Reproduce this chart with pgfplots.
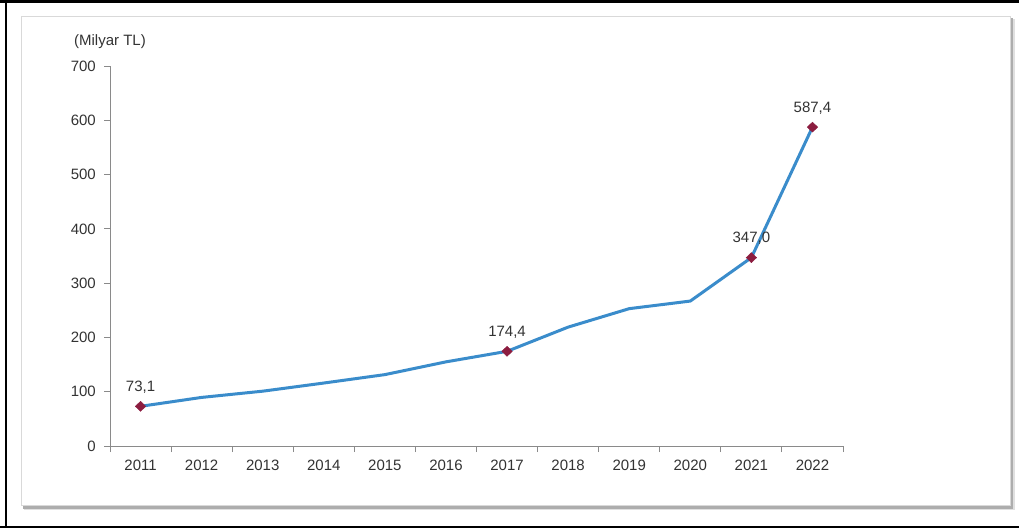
\documentclass[border=0pt]{standalone}
\usepackage{pgfplots}
\pgfplotsset{compat=1.18}
\usepackage{fontspec}
\setmainfont{Liberation Sans}
\definecolor{txt}{HTML}{333333}
\definecolor{ln}{HTML}{3A8CCB}
\definecolor{mk}{HTML}{8C1D40}
\definecolor{axc}{HTML}{8A8A8A}
\pgfplotstableread{
x y
0 73.1
1 89.5
2 101.0
3 116.0
4 131.5
5 155.0
6 174.4
7 219.0
8 253.0
9 267.0
10 347.0
11 587.4
}\datatab
\pgfplotstableread{
x y lab
0 73.1 73,1
6 174.4 174,4
10 347.0 347,0
11 587.4 587,4
}\marktab
\begin{document}
\fontsize{15pt}{18pt}\selectfont
\begin{tikzpicture}
\path[use as bounding box] (0pt,0pt) rectangle (1019pt,528pt);
% outer frame
\fill[black] (0pt,525.3pt) rectangle (1019pt,528pt);
\fill[black] (4.5pt,0pt) rectangle (7.3pt,528pt);
\fill[black] (0pt,0pt) rectangle (1019pt,2.5pt);
% panel shadow
\fill[black!12] (24pt,18pt) rectangle (1015pt,509pt);
\fill[black!32] (23pt,19.5pt) rectangle (1013pt,510pt);
\fill[white,draw=black!15,line width=0.8pt] (21pt,23pt) rectangle (1010pt,512pt);
\node[txt,font=\fontsize{15pt}{18pt}\selectfont] at (110pt,486pt) {(Milyar TL)};
\begin{axis}[
  at={(110pt,82pt)}, anchor=south west,
  scale only axis, width=733pt, height=380pt,
  xmin=-0.5, xmax=11.5, ymin=0, ymax=700,
  axis x line=bottom, axis y line=left,
  axis line style={-, axc, line width=1pt},
  xtick={0,...,11},
  xticklabels={2011,2012,2013,2014,2015,2016,2017,2018,2019,2020,2021,2022},
  major x tick style={draw=none},
  minor xtick={-0.5,0.5,...,11.5},
  minor tick length=6pt,
  minor x tick style={axc, line width=1pt},
  ytick={0,100,...,700},
  major tick length=6pt,
  y tick style={axc, line width=1pt},
  tick align=outside,
  ticklabel style={txt, font=\fontsize{15pt}{18pt}\selectfont},
  yticklabel style={xshift=-3pt},
  xticklabel style={yshift=-3pt},
  /pgf/number format/assume math mode=true,
  clip=false,
]
\addplot[ln, line width=3pt, line join=round] table[x=x,y=y] {\datatab};
\addplot[only marks, mark=diamond*, mark size=5pt,
  mark options={fill=mk, draw=mk, xscale=1.4},
  nodes near coords, point meta=explicit symbolic,
  nodes near coords style={txt, font=\fontsize{15pt}{18pt}\selectfont, yshift=8pt}]
  table[x=x,y=y,meta=lab] {\marktab};
\end{axis}
\end{tikzpicture}
\end{document}
